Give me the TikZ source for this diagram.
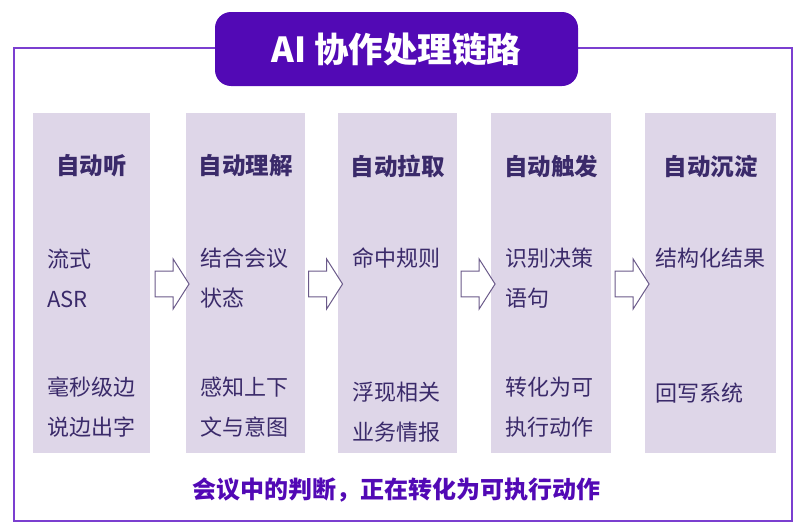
\documentclass[tikz,border=0pt]{standalone}
\usepackage{fontspec}
\setmainfont{Noto Sans CJK SC}
\usetikzlibrary{positioning,shapes.arrows}
\definecolor{titlepurple}{HTML}{5209B5}
\definecolor{framepurple}{HTML}{7B3FD0}
\definecolor{colfill}{HTML}{DED6E8}
\definecolor{inkpurple}{HTML}{3A2A6A}
\definecolor{arrowline}{HTML}{6B5A8A}
\begin{document}
\begin{tikzpicture}[x=1pt,y=-1pt,
    column/.style={fill=colfill,draw=none,anchor=north west,inner sep=0pt},
    head/.style={font=\bfseries\fontsize{23.5}{26}\selectfont,text=inkpurple},
    body/.style={font=\fontsize{22}{40}\selectfont,text=inkpurple,align=left,anchor=west,inner sep=0pt},
    flowarrow/.style={shape=single arrow,draw=arrowline,fill=white,line width=1pt,
      inner xsep=0pt,inner ysep=12pt,minimum width=50pt,single arrow head extend=12pt,
      single arrow tip angle=115,minimum height=34pt}]
    \useasboundingbox (0,0) rectangle (800,530);
    % outer frame
    \draw[framepurple,line width=1.5pt] (14,48) rectangle (792,521);
    \node[fill=titlepurple,rounded corners=16pt,minimum width=363pt,minimum height=74pt,
      text=white,font=\bfseries\fontsize{34.5}{38}\selectfont] (title) at (396.5,49) {AI 协作处理链路};
    % columns
    \node[column,minimum width=117pt,minimum height=340pt] (c1) at (33,113) {};
    \node[column,minimum width=119pt,minimum height=340pt] (c2) at (186,113) {};
    \node[column,minimum width=119pt,minimum height=340pt] (c3) at (338,113) {};
    \node[column,minimum width=120pt,minimum height=340pt] (c4) at (491,113) {};
    \node[column,minimum width=131pt,minimum height=340pt] (c5) at (645,113) {};
    \node[head] (h1) at (91.5,166) {自动听};
    \node[head] (h2) at (245.5,166) {自动理解};
    \node[head] (h3) at (397.5,166) {自动拉取};
    \node[head] (h4) at (551,166) {自动触发};
    \node[head] (h5) at (710.5,166) {自动沉淀};
    \node[body] (t1a) at (47,278) {流式\\ASR};
    \node[body] (t1b) at (47,407) {毫秒级边\\说边出字};
    \node[body] (t2a) at (200,278) {结合会议\\状态};
    \node[body] (t2b) at (200,407) {感知上下\\文与意图};
    \node[body] (t3a) at (352,258) {命中规则};
    \node[body] (t3b) at (352,412) {浮现相关\\业务情报};
    \node[body] (t4a) at (505,278) {识别决策\\语句};
    \node[body] (t4b) at (505,407) {转化为可\\执行动作};
    \node[body] (t5a) at (655,258) {结构化结果};
    \node[body] (t5b) at (655,393) {回写系统};
    % arrows
    \node[flowarrow] (a1) at (168,284) {};
    \node[flowarrow] (a2) at (321.5,284) {};
    \node[flowarrow] (a3) at (474,284) {};
    \node[flowarrow] (a4) at (628,284) {};
    \node[font=\bfseries\fontsize{24}{28}\selectfont,text=titlepurple] (note) at (396,490)
      {会议中的判断，正在转化为可执行动作};
\end{tikzpicture}
\end{document}
